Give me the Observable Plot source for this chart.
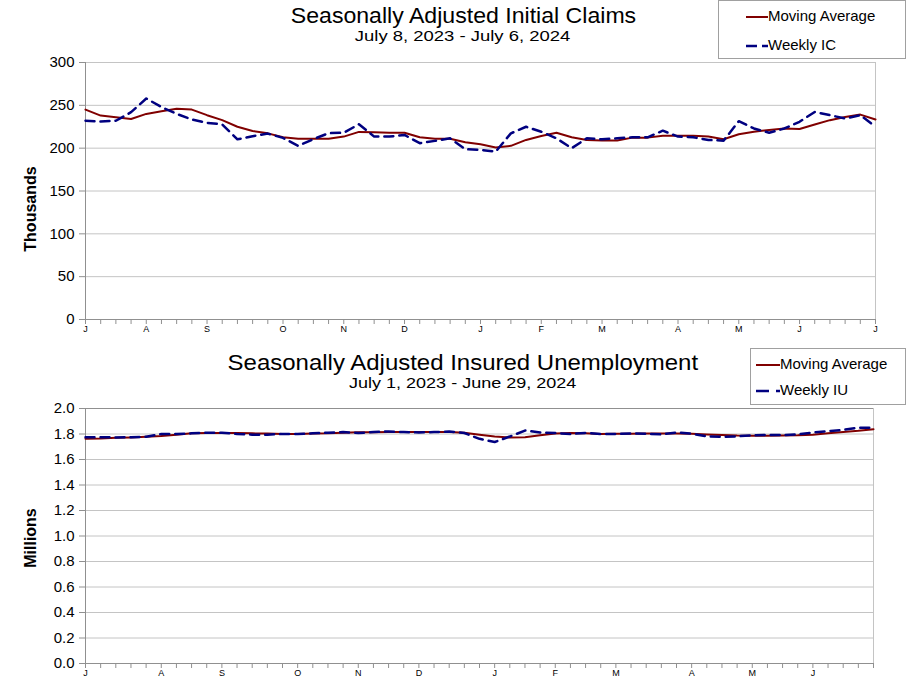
<!DOCTYPE html>
<html><head><meta charset="utf-8">
<script src="https://cdn.jsdelivr.net/npm/d3@7"></script>
<script src="https://cdn.jsdelivr.net/npm/@observablehq/plot@0.6"></script>
<style>
body{margin:0;background:#fff;font-family:"Liberation Sans",Arial,sans-serif;}
#wrap{position:relative;width:920px;height:700px;overflow:hidden;}
.t{position:absolute;left:0;width:926px;text-align:center;color:#000;}
.t span{display:inline-block;transform-origin:center;}
.t1{font-size:22px;line-height:24px;}
.t2{font-size:15px;line-height:18px;}
.legend{position:absolute;border:1px solid #a0a0a0;background:#fff;font-size:15px;color:#000;box-sizing:border-box;}
.legend .row{position:absolute;left:0;white-space:nowrap;}
.legend svg{vertical-align:middle;}
.chart{position:absolute;left:0;}
</style>
</head><body>
<div id="wrap">
  <div id="c1" class="chart" style="top:0"></div>
  <div id="c2" class="chart" style="top:340px"></div>
  <div class="t t1" style="top:4px"><span style="transform:scaleX(1.05)">Seasonally Adjusted Initial Claims</span></div>
  <div class="t t2" style="top:27px"><span style="transform:scaleX(1.23)">July 8, 2023 - July 6, 2024</span></div>
  <div class="t t1" style="top:351px"><span style="transform:scaleX(1.09)">Seasonally Adjusted Insured Unemployment</span></div>
  <div class="t t2" style="top:374px"><span style="transform:scaleX(1.2)">July 1, 2023 - June 29, 2024</span></div>
  <div class="legend" style="left:718px;top:0;width:188px;height:59px;">
    <div class="row" style="top:6px;left:27px"><svg width="22" height="6"><line x1="0" x2="22" y1="3" y2="3" stroke="#800000" stroke-width="2"/></svg>Moving Average</div>
    <div class="row" style="top:35px;left:27px"><svg width="22" height="6"><line x1="0" x2="22" y1="3" y2="3" stroke="#000080" stroke-width="2.5" stroke-dasharray="11,5"/></svg>Weekly IC</div>
  </div>
  <div class="legend" style="left:750px;top:348px;width:156px;height:57px;">
    <div class="row" style="top:6px;left:5px"><svg width="24" height="6"><line x1="0" x2="24" y1="3" y2="3" stroke="#800000" stroke-width="2"/></svg>Moving Average</div>
    <div class="row" style="top:32px;left:5px"><svg width="24" height="6"><line x1="0" x2="24" y1="3" y2="3" stroke="#000080" stroke-width="2.5" stroke-dasharray="13,7"/></svg>Weekly IU</div>
  </div>
</div>
<script>
// ---- Data ----
const claimsStart = "2023-07-08";
const claimsMA = [245,238,236,234,240,243,246,245,238.5,232.7,225,220,217.3,212.7,211,211,211,213.5,219,218.5,218,218,212.7,211,211,207,204.6,200.8,202.7,209.6,214.2,218,212.7,209.6,209,209,212.3,212.3,214.6,214.6,214.6,213.5,210.4,216.2,219.2,221.2,223,222.3,227.7,232.7,236.5,239.2,233.5];
const claimsWeekly = [232,231,232,242,258,248,240,233.5,229.6,227.7,210.3,214,217,212,202.7,210.5,217.5,218,228,213.5,213.5,215.4,205.8,208.5,211.5,198.8,198,196,217.3,225,219.2,211.5,200,211.5,210.4,211.5,212.7,212.7,220.4,213.5,212.7,209.6,208.8,231.5,223,218,223,230.8,242.3,238.5,234.6,238.5,225];
const claimsYTicks = [0,50,100,150,200,250,300];

const insuredStart = "2023-07-01";
const insuredMA = [1.763,1.765,1.77,1.773,1.778,1.785,1.795,1.805,1.808,1.808,1.807,1.805,1.803,1.80,1.80,1.803,1.805,1.81,1.813,1.814,1.815,1.815,1.815,1.815,1.815,1.81,1.795,1.78,1.772,1.775,1.79,1.803,1.808,1.806,1.80,1.801,1.802,1.803,1.803,1.803,1.802,1.797,1.792,1.788,1.787,1.787,1.788,1.79,1.795,1.805,1.815,1.825,1.838];
const insuredWeekly = [1.775,1.775,1.773,1.775,1.778,1.80,1.80,1.805,1.81,1.81,1.80,1.795,1.795,1.80,1.80,1.805,1.81,1.815,1.808,1.815,1.82,1.815,1.812,1.815,1.82,1.808,1.762,1.737,1.78,1.827,1.812,1.808,1.80,1.808,1.80,1.80,1.805,1.802,1.797,1.812,1.802,1.782,1.778,1.782,1.79,1.792,1.792,1.797,1.812,1.822,1.832,1.85,1.85];
const insuredYTicks = [0,0.2,0.4,0.6,0.8,1.0,1.2,1.4,1.6,1.8,2.0];

const monthLetters = ["J","F","M","A","M","J","J","A","S","O","N","D"];

function weeks(start, n) {
  const s = new Date(start + "T00:00:00Z");
  return d3.range(n).map(i => d3.utcDay.offset(s, 7 * i));
}
function monthLabels(dates) {
  const m = new Map();
  dates.forEach((d, i) => {
    const show = i === 0 || d.getUTCMonth() !== dates[i - 1].getUTCMonth();
    m.set(+d, show ? monthLetters[d.getUTCMonth()] : "");
  });
  return m;
}

function chart(opts) {
  const dates = weeks(opts.start, opts.ma.length);
  const rows = dates.map((d, i) => ({date: d, ma: opts.ma[i], wk: opts.weekly[i]}));
  const labels = monthLabels(dates);
  const first = dates[0], last = dates[dates.length - 1];
  return Plot.plot({
    width: 920,
    height: opts.height,
    marginTop: opts.mt, marginBottom: opts.mb, marginLeft: 85, marginRight: opts.mr,
    style: {fontFamily: '"Liberation Sans", Arial, sans-serif', fontSize: "15px", color: "#000", background: "#fff"},
    x: {type: "utc", domain: [first, last]},
    y: {domain: opts.ydomain},
    marks: [
      Plot.gridY(opts.yticks, {stroke: "#c4c4c4", strokeOpacity: 1, strokeWidth: 1}),
      Plot.ruleX([last], {stroke: "#c4c4c4", strokeWidth: 1}),
      Plot.ruleY([opts.ydomain[1]], {stroke: opts.topStroke, strokeWidth: 1}),
      Plot.ruleX([first], {stroke: "#909090", strokeWidth: 1}),
      Plot.ruleY([opts.ydomain[0]], {stroke: "#909090", strokeWidth: 1}),
      Plot.axisY({ticks: opts.yticks, tickFormat: opts.yfmt, tickSize: 6, tickPadding: 5, stroke: "#909090", label: null, fontSize: 15}),
      Plot.axisX({ticks: dates, tickFormat: d => labels.get(+d), tickSize: 5, tickPadding: 1, stroke: "#909090", label: null, fontSize: 9}),
      Plot.text([opts.ylabel], {frameAnchor: "left", textAnchor: "middle", dx: -55, dy: opts.labelDy, rotate: -90, fontWeight: "bold", fontSize: 16}),
      Plot.line(rows, {x: "date", y: "ma", stroke: "#800000", strokeWidth: 2}),
      Plot.line(rows, {x: "date", y: "wk", stroke: "#000080", strokeWidth: 2.5, strokeDasharray: "9,6"})
    ]
  });
}

document.getElementById("c1").append(chart({
  start: claimsStart, ma: claimsMA, weekly: claimsWeekly,
  height: 340, mt: 62, mb: 21, mr: 45, topStroke: "#c4c4c4", labelDy: 18,
  ydomain: [0, 300], yticks: claimsYTicks, yfmt: d3.format("d"), ylabel: "Thousands"
}));
document.getElementById("c2").append(chart({
  start: insuredStart, ma: insuredMA, weekly: insuredWeekly,
  height: 360, mt: 68, mb: 37, mr: 47, topStroke: "#909090", labelDy: 2,
  ydomain: [0, 2], yticks: insuredYTicks, yfmt: d3.format(".1f"), ylabel: "Millions"
}));
</script>
</body></html>
